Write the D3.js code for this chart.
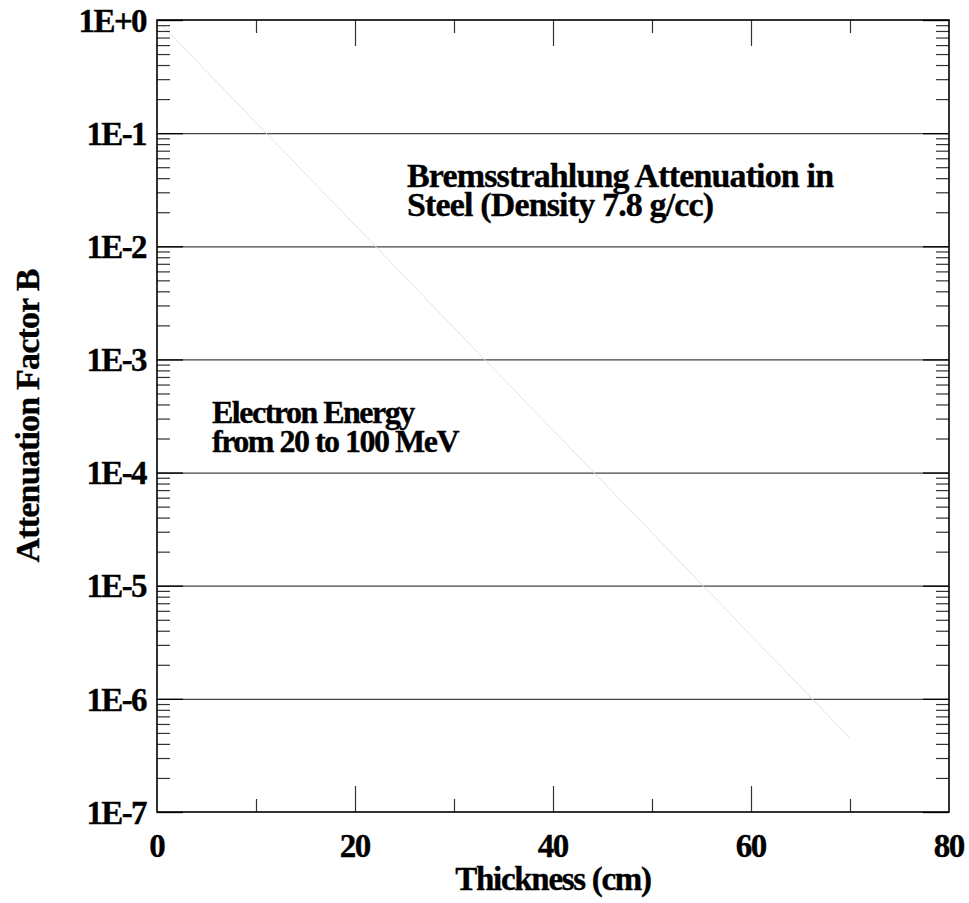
<!DOCTYPE html>
<html>
<head>
<meta charset="utf-8">
<script src="https://cdn.jsdelivr.net/npm/d3@7"></script>
<style>
  body { margin: 0; background: #fff; }
  text { font-family: "Liberation Serif", "Times New Roman", serif; font-weight: bold; fill: #000; stroke: #000; stroke-width: 0.35px; }
</style>
</head>
<body>
<script>
// data
var thickness = [0.5, 10, 20, 30, 40, 50, 60, 70]
var attenuation = [0.9, 0.124, 0.0154, 1.9e-3, 2.37e-4, 2.94e-5, 3.63e-6, 4.5e-7]

var xMajor = [20, 40, 60]
var xMinor = [10, 30, 50, 70]
var xTickLabels = ["0", "20", "40", "60", "80"]
var xLabelValues = [0, 20, 40, 60, 80]

var yMajor = [1e0, 1e-1, 1e-2, 1e-3, 1e-4, 1e-5, 1e-6, 1e-7]
var yTickLabels = ["1E+0", "1E-1", "1E-2", "1E-3", "1E-4", "1E-5", "1E-6", "1E-7"]
var yMinorMult = [2, 3, 4, 5, 6, 7, 8, 9]

var noteA = ["Bremsstrahlung Attenuation in", "Steel (Density 7.8 g/cc)"]
var noteB = ["Electron Energy", "from 20 to 100 MeV"]

// stage
var margin = {top: 20, right: 20, bottom: 91, left: 157}
var width = 969 - margin.left - margin.right
var height = 903 - margin.top - margin.bottom

var svg = d3.select("body").append("svg")
  .attr("width", 969)
  .attr("height", 903)
  .append("g")
  .attr("transform", "translate(" + margin.left + "," + margin.top + ")")

var x = d3.scaleLinear().domain([0, 80]).range([0, width])
var y = d3.scaleLog().domain([1e-7, 1]).range([height, 0])

// minor y values between decades
var yMinor = []
for (var d = -7; d < 0; d++) {
  yMinorMult.forEach(function(m) { yMinor.push(m * Math.pow(10, d)) })
}

function clean(g) { g.select(".domain").remove() }

// gridlines at each decade
svg.append("g")
  .attr("class", "grid")
  .call(d3.axisLeft(y).tickValues(yMajor.slice(1, -1)).tickSize(-width).tickFormat(""))
  .call(clean)
  .selectAll("line").attr("stroke", "#444").attr("stroke-width", 1.3)

// the data line
var line = d3.line()
  .x(function(d, i) { return x(thickness[i]) })
  .y(function(d, i) { return y(attenuation[i]) })

svg.append("path")
  .datum(attenuation)
  .attr("d", line)
  .attr("fill", "none")
  .attr("stroke", "#e2e2e2")
  .attr("stroke-width", 1)

// y ticks, left + right
svg.append("g").call(d3.axisLeft(y).tickValues(yMinor).tickSize(-13).tickFormat("")).call(clean)
  .selectAll("line").attr("stroke", "#333").attr("stroke-width", 1.2)
svg.append("g").attr("transform", "translate(" + width + ",0)")
  .call(d3.axisRight(y).tickValues(yMinor).tickSize(-13).tickFormat("")).call(clean)
  .selectAll("line").attr("stroke", "#333").attr("stroke-width", 1.2)
svg.append("g").attr("transform", "translate(" + width + ",0)")
  .call(d3.axisRight(y).tickValues(yMajor).tickSize(-26).tickFormat("")).call(clean)
  .selectAll("line").attr("stroke", "#000").attr("stroke-width", 1.3)

var yAxis = svg.append("g")
  .call(d3.axisLeft(y).tickValues(yMajor).tickSize(-26).tickPadding(11)
    .tickFormat(function(d, i) { return yTickLabels[i] }))
  .call(clean)
yAxis.selectAll("line").attr("stroke", "#000").attr("stroke-width", 1.3)
yAxis.selectAll("text")
  .attr("dy", "0.34em")
  .style("font-size", "33px")
  .style("letter-spacing", "-1.6px")
  .style("font-family", "Liberation Serif")

// x ticks, bottom + top
svg.append("g").attr("transform", "translate(0," + height + ")")
  .call(d3.axisBottom(x).tickValues(xMinor).tickSize(-13).tickFormat("")).call(clean)
  .selectAll("line").attr("stroke", "#333").attr("stroke-width", 1.2)
svg.append("g")
  .call(d3.axisTop(x).tickValues(xMinor).tickSize(-13).tickFormat("")).call(clean)
  .selectAll("line").attr("stroke", "#333").attr("stroke-width", 1.2)
svg.append("g")
  .call(d3.axisTop(x).tickValues(xMajor).tickSize(-26).tickFormat("")).call(clean)
  .selectAll("line").attr("stroke", "#333").attr("stroke-width", 1.2)
svg.append("g").attr("transform", "translate(0," + height + ")")
  .call(d3.axisBottom(x).tickValues(xMajor).tickSize(-26).tickFormat("")).call(clean)
  .selectAll("line").attr("stroke", "#333").attr("stroke-width", 1.2)

var xAxis = svg.append("g").attr("transform", "translate(0," + height + ")")
  .call(d3.axisBottom(x).tickValues(xLabelValues).tickSize(0).tickPadding(22)
    .tickFormat(function(d, i) { return xTickLabels[i] }))
  .call(clean)
xAxis.selectAll("text")
  .attr("dy", "0.71em")
  .attr("dx", "-0.8px")
  .style("font-size", "33px")
  .style("letter-spacing", "-1.6px")
  .style("font-family", "Liberation Serif")

// frame
svg.append("rect")
  .attr("width", width)
  .attr("height", height)
  .attr("fill", "none")
  .attr("stroke", "#000")
  .attr("stroke-width", 1.6)

// axis titles
svg.append("text")
  .attr("x", width / 2)
  .attr("y", height + 78)
  .attr("text-anchor", "middle")
  .style("font-size", "33px")
  .style("letter-spacing", "-1.3px")
  .text("Thickness (cm)")

svg.append("text")
  .attr("transform", "translate(" + (-118) + "," + (height / 2) + ") rotate(-90)")
  .attr("text-anchor", "middle")
  .style("font-size", "34px")
  .style("letter-spacing", "-0.8px")
  .text("Attenuation Factor B")

// notes inside the plot
svg.selectAll(".noteA")
  .data(noteA)
  .enter().append("text")
  .attr("class", "noteA")
  .attr("x", 407 - margin.left)
  .attr("y", function(d, i) { return 187 - margin.top + i * 29 })
  .style("font-size", "34px")
  .style("letter-spacing", "-0.85px")
  .text(function(d) { return d })

svg.selectAll(".noteB")
  .data(noteB)
  .enter().append("text")
  .attr("class", "noteB")
  .attr("x", 212 - margin.left)
  .attr("y", function(d, i) { return 423 - margin.top + i * 29 })
  .style("font-size", "32px")
  .style("letter-spacing", "-1.5px")
  .text(function(d) { return d })
</script>
</body>
</html>
